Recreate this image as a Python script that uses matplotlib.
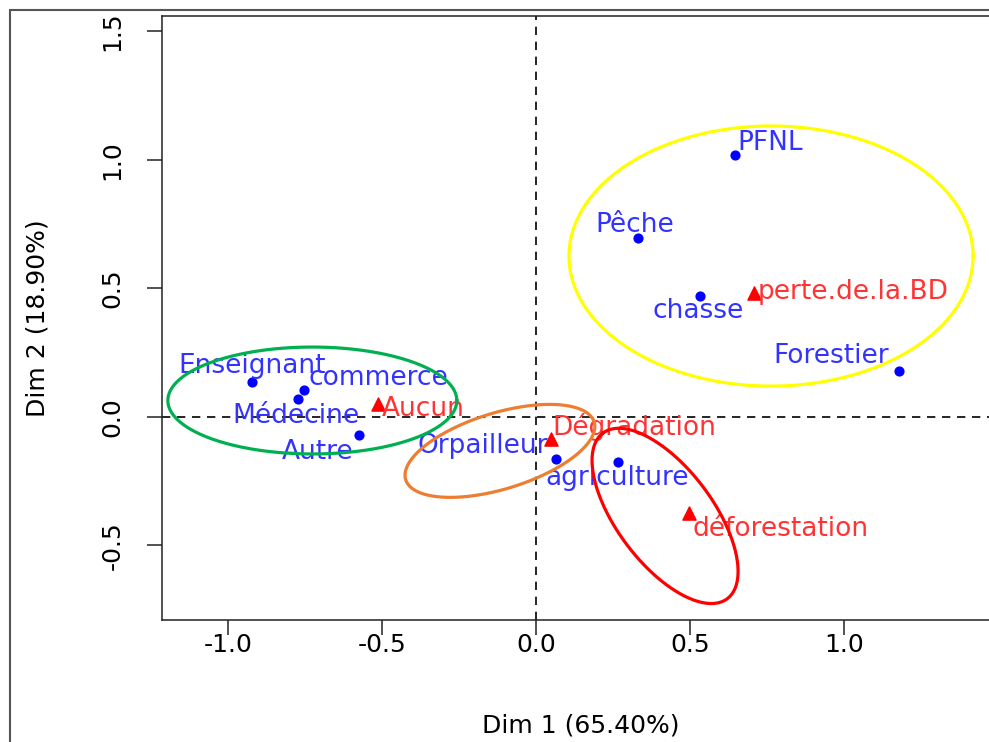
import numpy as np
import matplotlib.pyplot as plt
from matplotlib.patches import Rectangle

# activités (points bleus)
col_names = ["Enseignant", "commerce", "Médecine", "Autre", "Orpailleur",
             "agriculture", "PFNL", "Pêche", "chasse", "Forestier"]
col_dim1 = [-0.923, -0.753, -0.772, -0.574, 0.065, 0.265, 0.646, 0.330, 0.533, 1.180]
col_dim2 = [0.135, 0.105, 0.069, -0.071, -0.163, -0.174, 1.020, 0.696, 0.471, 0.179]

# menaces (triangles rouges)
row_names = ["Aucun", "Dégradation", "déforestation", "perte.de.la.BD"]
row_dim1 = [-0.512, 0.048, 0.498, 0.709]
row_dim2 = [0.051, -0.087, -0.375, 0.482]

# ellipses de regroupement : centre + deux demi-axes (en unités Dim1/Dim2)
ell_cx = [-0.726, 0.763, -0.117, 0.419]
ell_cy = [0.064, 0.626, -0.132, -0.385]
ell_u = [(0.469, 0.0), (0.656, 0.0), (0.306, 0.112), (-0.202, 0.322)]
ell_v = [(0.0, 0.208), (0.0, 0.506), (-0.036, 0.142), (-0.124, -0.112)]
ell_colors = ["#00B050", "#FFFF00", "#ED7D31", "#FF0000"]

x_ticks = [-1.0, -0.5, 0.0, 0.5, 1.0]
y_ticks = [-0.5, 0.0, 0.5, 1.0, 1.5]

# placement des étiquettes (alignement, décalage en pixels)
col_lab = [("center", 0, 16), ("left", 4, 12), ("center", -2, -17), ("center", -42, -17),
           ("right", -8, 13), ("center", 0, -16), ("left", 2, 12), ("center", -3, 13),
           ("center", -2, -15), ("right", -10, 15)]
row_lab = [("left", 4, -5), ("left", 2, 12), ("left", 3, -16), ("left", 3, 1)]

fig = plt.figure(figsize=(9.89, 7.42), dpi=100)
ax = fig.add_axes([162 / 989, 122 / 742, 837 / 989, 604 / 742])

ax.axhline(0, color="black", lw=1.2, dashes=(5, 4), zorder=1)
ax.axvline(0, color="black", lw=1.2, dashes=(5, 4), zorder=1)

ax.scatter(col_dim1, col_dim2, s=40, color="blue", marker="o", zorder=3)
ax.scatter(row_dim1, row_dim2, s=90, color="red", marker="^", zorder=3)

for name, x, y, (ha, dx, dy) in zip(col_names, col_dim1, col_dim2, col_lab):
    ax.annotate(name, (x, y), xytext=(dx, dy), textcoords="offset pixels",
                ha=ha, va="center", color="#3333ff", fontsize=19, zorder=4)
for name, x, y, (ha, dx, dy) in zip(row_names, row_dim1, row_dim2, row_lab):
    ax.annotate(name, (x, y), xytext=(dx, dy), textcoords="offset pixels",
                ha=ha, va="center", color="#ff3333", fontsize=19, zorder=4)

t = np.linspace(0, 2 * np.pi, 300)
for cx, cy, u, v, c in zip(ell_cx, ell_cy, ell_u, ell_v, ell_colors):
    ex = cx + u[0] * np.cos(t) + v[0] * np.sin(t)
    ey = cy + u[1] * np.cos(t) + v[1] * np.sin(t)
    ax.plot(ex, ey, color=c, lw=2.3, zorder=5)

ax.set_xlim(-1.214, 1.503)
ax.set_ylim(-0.790, 1.560)
ax.set_xticks(x_ticks)
ax.set_yticks(y_ticks)
ax.set_xticklabels([f"{v:.1f}" for v in x_ticks])
ax.set_yticklabels([f"{v:.1f}" for v in y_ticks], rotation=90, va="center")
ax.tick_params(length=11, width=1.1, labelsize=18, color="#222222")
ax.tick_params(axis="x", pad=-2)
ax.tick_params(axis="y", pad=16)
for sp in ax.spines.values():
    sp.set_linewidth(1.1)
    sp.set_color("#222222")

ax.set_xlabel("Dim 1 (65.40%)", fontsize=18)
ax.set_ylabel("Dim 2 (18.90%)", fontsize=18)
ax.xaxis.set_label_coords(0.5, -94 / 604)
ax.yaxis.set_label_coords(-112 / 837, 0.5)

# cadre de la capture
fig.add_artist(Rectangle((10 / 989, -0.1), 1.2, 1.1 - 10 / 742, transform=fig.transFigure,
                         fill=False, edgecolor="#555555", lw=1.5))

fig.savefig("out.png", dpi=100)
